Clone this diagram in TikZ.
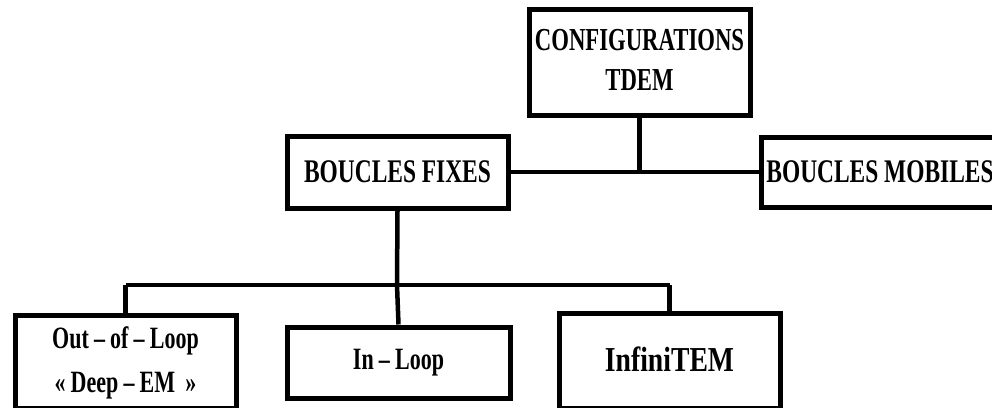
\documentclass[tikz,border=0pt]{standalone}
\usepackage{fontspec}
\setmainfont{Liberation Serif}[FakeStretch=0.71]
\newfontfamily\widerserif{Liberation Serif}[FakeStretch=0.79]
\begin{document}
\begin{tikzpicture}[x=1pt,y=-1pt,
  box/.style={draw=black,line width=5pt,fill=white,inner sep=0pt,align=center,
    font=\fontsize{33}{40}\selectfont\bfseries},
  link/.style={draw=black,line width=4.5pt}]
\useasboundingbox (0,0) rectangle (992,407);
\clip (0,0) rectangle (992,407);
% boxes
\node[box,minimum width=221pt,minimum height=106pt,font=\fontsize{32}{40}\selectfont\bfseries] (cfg) at (639.5,62) {\raisebox{6pt}{\begin{tabular}{@{}c@{}}CONFIGURATIONS\\[0pt]TDEM\end{tabular}}};
\node[box,minimum width=221pt,minimum height=72pt] (bf) at (397.5,172) {BOUCLES FIXES};
\node[box,minimum width=238pt,minimum height=70pt] (bm) at (880,172) {BOUCLES MOBILES};
\node[box,minimum width=221pt,minimum height=93pt,font=\fontsize{31}{42}\selectfont\bfseries] (oo) at (125.5,362) {\raisebox{6pt}{\begin{tabular}{@{}c@{}}Out\,–\,of\,–\,Loop\\[2pt]«\,Deep\,–\,EM\,\,»\end{tabular}}};
\node[box,minimum width=223pt,minimum height=71pt,font=\fontsize{31}{36}\selectfont\bfseries] (il) at (398.5,362.5) {\raisebox{2pt}{In\,–\,Loop}};
\node[box,minimum width=221pt,minimum height=95pt,font=\fontsize{35}{40}\widerserif\bfseries] (it) at (669.5,361) {\raisebox{3pt}{InfiniTEM}};
% connectors
\coordinate (bus) at (397,285);
\draw[link] (cfg.south) -- (cfg.south |- bf.east);
\draw[link] (bf.east) -- (bm.west);
\draw[link] (bf.south) -- (bus);
\draw[link] (oo.north |- bus) -- (bus) -- (it.north |- bus);
\draw[link] (oo.north |- bus) -- (oo.north);
\draw[link] (bus) -- (il.north);
\draw[link] (it.north |- bus) -- (it.north);
\end{tikzpicture}
\end{document}
